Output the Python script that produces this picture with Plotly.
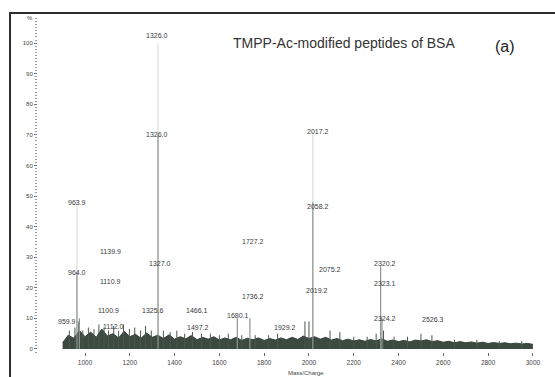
import plotly.graph_objects as go

# ---- data ----
grass_mz = list(range(900, 3025, 25))
grass_int = [2.0, 4.5, 3.5, 6.0, 4.0, 5.5, 3.8, 6.5, 4.2, 5.0, 3.6, 5.8, 4.0, 4.8, 3.5, 5.2,
             3.8, 4.5, 3.4, 4.6, 3.2, 4.0, 3.3, 4.4, 3.0, 3.8, 3.2, 4.0, 2.9, 3.6, 3.0, 3.8,
             2.8, 3.5, 3.0, 3.6, 2.8, 3.4, 2.9, 3.6, 3.0, 3.8, 3.1, 4.2, 3.4, 4.0, 3.2, 3.8,
             2.9, 3.4, 2.7, 3.2, 2.6, 3.0, 2.5, 3.1, 2.6, 3.3, 2.5, 2.9, 2.4, 2.8, 2.3, 2.9,
             2.6, 3.0, 2.4, 2.7, 2.2, 2.5, 2.0, 2.4, 2.0, 2.3, 1.9, 2.2, 1.8, 2.1, 1.8, 2.0,
             1.7, 1.9, 1.6, 1.8, 1.5]

minor_mz = [930, 955, 972, 990, 1015, 1040, 1062, 1085, 1105, 1128, 1150, 1172, 1198, 1222,
            1248, 1270, 1296, 1350, 1380, 1410, 1445, 1480, 1520, 1560, 1600, 1640, 1700,
            1760, 1820, 1860, 1982, 2000, 2094, 2138, 2200, 2260, 2300, 2333, 2380, 2440,
            2500, 2549, 2650, 2750, 2850, 2950]
minor_int = [6, 7, 9, 6, 7, 6.5, 8, 7, 6, 7.5, 6, 8, 6.5, 7, 6, 7.5, 6, 6, 5.5, 6, 5, 5.5,
             5, 5, 4.5, 5, 4.5, 4.5, 4.5, 5, 9, 9, 6, 5.5, 4, 4, 5, 6, 4, 4, 5, 4.5, 3, 3,
             2.5, 2.5]

major_mz = [964.0, 975.0, 1326.0, 1680.1, 1736.2, 2017.2, 2320.2, 2326.0]
major_int = [25, 10, 70, 10, 10, 48, 27, 10]

faint_mz = [964.0, 1326.0, 2017.2]
faint_int = [48, 100, 71]

label_text = ["1326.0", "1326.0", "2017.2", "2058.2", "963.9", "964.0", "1139.9", "1110.9",
              "1100.9", "1112.0", "959.9", "1327.0", "1325.6", "1466.1", "1497.2", "1680.1",
              "1727.2", "1736.2", "1929.2", "2075.2", "2019.2", "2320.2", "2323.1", "2324.2",
              "2526.3"]
label_mz = [1321, 1321, 2040, 2040, 964, 964, 1112, 1112, 1103, 1125, 920, 1335, 1304, 1500,
            1504, 1683, 1750, 1750, 1893, 2094, 2036, 2339, 2339, 2339, 2554]
label_int = [102.6, 70, 71, 46.5, 48, 25, 32, 22, 12.7, 7.5, 9, 28, 12.5, 12.5, 7, 11, 35,
             17, 7, 26, 19, 28, 21.5, 10, 9.5]

y_ticks = [0, 10, 20, 30, 40, 50, 60, 70, 80, 90, 100]
x_ticks = [1000, 1200, 1400, 1600, 1800, 2000, 2200, 2400, 2600, 2800, 3000]

title_text = "TMPP-Ac-modified peptides of BSA"
panel_text = "(a)"
x_title = "Mass/Charge"


def sticks(xs, ys):
    px, py = [], []
    for x, y in zip(xs, ys):
        px += [x, x, None]
        py += [0, y, None]
    return px, py


fig = go.Figure()

fx, fy = sticks(faint_mz, faint_int)
fig.add_trace(go.Scatter(x=fx, y=fy, mode="lines", line=dict(color="#d4d8d4", width=1),
                         hoverinfo="skip", showlegend=False))

fig.add_trace(go.Scatter(x=grass_mz, y=grass_int, mode="lines", fill="tozeroy",
                         line=dict(color="#34423a", width=1), fillcolor="#3c4a40",
                         hoverinfo="skip", showlegend=False))

mx, my = sticks(minor_mz, minor_int)
fig.add_trace(go.Scatter(x=mx, y=my, mode="lines", line=dict(color="#4a574e", width=1),
                         hoverinfo="skip", showlegend=False))

jx, jy = sticks(major_mz, major_int)
fig.add_trace(go.Scatter(x=jx, y=jy, mode="lines", line=dict(color="#8c968f", width=1.2),
                         hoverinfo="skip", showlegend=False))

for t, x, y in zip(label_text, label_mz, label_int):
    fig.add_annotation(x=x, y=y, text=t, showarrow=False, xanchor="center", yanchor="middle",
                       font=dict(family="Arial, Liberation Sans", size=7, color="#3a3a3a"))

fig.add_annotation(xref="paper", yref="paper", x=0.603, y=0.925, text=title_text,
                   showarrow=False, xanchor="center", yanchor="middle",
                   font=dict(family="Arial, Liberation Sans", size=14, color="#333333"))
fig.add_annotation(xref="paper", yref="paper", x=0.921, y=0.916, text=panel_text,
                   showarrow=False, xanchor="center", yanchor="middle",
                   font=dict(family="Arial, Liberation Sans", size=16, color="#222222"))
fig.add_annotation(xref="paper", yref="paper", x=-0.016, y=1.0, text="%",
                   showarrow=False, xanchor="center", yanchor="middle",
                   font=dict(family="Arial, Liberation Sans", size=6, color="#444444"))
fig.add_annotation(xref="paper", yref="paper", x=0.528, y=-0.064, text=x_title,
                   showarrow=False, xanchor="center", yanchor="middle",
                   font=dict(family="Arial, Liberation Sans", size=6, color="#444444"))

# frame
fig.add_shape(type="rect", xref="paper", yref="paper", x0=-0.0552, y0=-0.2, x1=1.1, y1=1.015,
              line=dict(color="#2e2e2e", width=2), fillcolor="rgba(0,0,0,0)")

fig.update_xaxes(range=[790, 3054], tickvals=x_ticks, ticktext=[str(v) for v in x_ticks],
                 ticks="outside", ticklen=3, tickcolor="#666666", showgrid=False,
                 zeroline=False, showline=False, ticklabelstandoff=1,
                 tickfont=dict(family="Arial, Liberation Sans", size=6.5, color="#444444"))
fig.update_yaxes(range=[-1, 108.2], tickvals=y_ticks, ticktext=[str(v) for v in y_ticks],
                 ticks="outside", ticklen=3, tickcolor="#777777", showgrid=False,
                 zeroline=False, showline=False,
                 minor=dict(ticks="outside", ticklen=2, dtick=1, tickcolor="#9a9a9a"),
                 tickfont=dict(family="Arial, Liberation Sans", size=6, color="#444444"))

fig.update_layout(width=555, height=377, margin=dict(l=38, r=10, t=18, b=25),
                  paper_bgcolor="white", plot_bgcolor="white")

fig.write_html("out.html", config={"displayModeBar": False},
               post_script="document.body.style.margin='0';")
